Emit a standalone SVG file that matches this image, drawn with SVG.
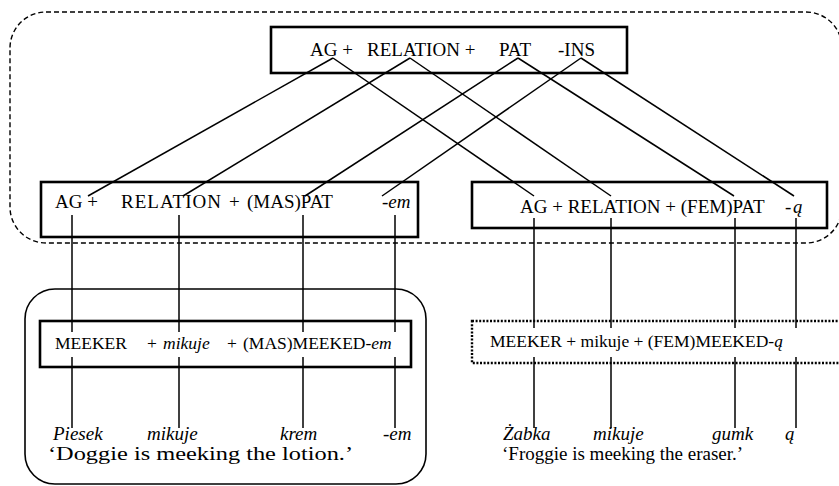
<svg xmlns="http://www.w3.org/2000/svg" width="839" height="486" viewBox="0 0 839 486">
<style>
.t{font-family:"Liberation Serif","Times New Roman",serif;font-size:19px;fill:#000}
.s{font-size:17.5px}
.i{font-style:italic}
.box{fill:none;stroke:#000;stroke-width:2.6}
.ln{stroke:#000;stroke-width:1.5;fill:none}
</style>
<rect width="839" height="486" fill="#fff"/>
<g id="scope-dashed">
<rect x="10" y="12" width="832" height="231" rx="36" ry="36" fill="none" stroke="#000" stroke-width="1.4" stroke-dasharray="5 3"/>
</g>
<g id="scope-left">
<rect x="25" y="289" width="401" height="195" rx="30" ry="30" fill="none" stroke="#000" stroke-width="1.6"/>
</g>
<g id="connectors">
<line class="ln" x1="333" y1="58" x2="88" y2="196"/>
<line class="ln" x1="333" y1="58" x2="534" y2="196"/>
<line class="ln" x1="410" y1="58" x2="183" y2="196"/>
<line class="ln" x1="410" y1="58" x2="611" y2="196"/>
<line class="ln" x1="518" y1="58" x2="305" y2="196"/>
<line class="ln" x1="518" y1="58" x2="734" y2="196"/>
<line class="ln" x1="581" y1="58" x2="382" y2="196"/>
<line class="ln" x1="581" y1="58" x2="794" y2="196"/>
<line class="ln" x1="72" y1="215" x2="72" y2="332"/>
<line class="ln" x1="72" y1="357" x2="72" y2="428"/>
<line class="ln" x1="179" y1="215" x2="179" y2="332"/>
<line class="ln" x1="179" y1="357" x2="179" y2="428"/>
<line class="ln" x1="303" y1="215" x2="303" y2="332"/>
<line class="ln" x1="303" y1="357" x2="303" y2="428"/>
<line class="ln" x1="395" y1="215" x2="395" y2="332"/>
<line class="ln" x1="395" y1="357" x2="395" y2="428"/>
<line class="ln" x1="534" y1="218" x2="534" y2="328"/>
<line class="ln" x1="534" y1="357" x2="534" y2="428"/>
<line class="ln" x1="611" y1="218" x2="611" y2="328"/>
<line class="ln" x1="611" y1="357" x2="611" y2="428"/>
<line class="ln" x1="735" y1="218" x2="735" y2="328"/>
<line class="ln" x1="735" y1="357" x2="735" y2="428"/>
<line class="ln" x1="796" y1="218" x2="796" y2="328"/>
<line class="ln" x1="796" y1="357" x2="796" y2="428"/>
</g>
<g id="node-top">
<rect class="box" x="271" y="27" width="356" height="46"/>
<text class="t" x="310" y="56">AG +</text>
<text class="t" x="367" y="56">RELATION +</text>
<text class="t" x="499" y="56">PAT</text>
<text class="t" x="558" y="56">-INS</text>
</g>
<g id="node-left-mid">
<rect class="box" x="41" y="182" width="377" height="55"/>
<text class="t" x="55" y="208">AG +</text>
<text class="t" x="121" y="208" textLength="100">RELATION</text>
<text class="t" x="229" y="208">+</text>
<text class="t" x="247" y="208">(MAS)PAT</text>
<text class="t i" x="382" y="208">-em</text>
</g>
<g id="node-right-mid">
<rect class="box" x="472" y="182" width="355" height="46"/>
<text class="t" x="520" y="213">AG + RELATION + (FEM)PAT</text>
<text class="t" x="785" y="213">-</text>
<text class="t i" x="793" y="213">ą</text>
</g>
<g id="node-left-low">
<rect class="box" x="40" y="321" width="371" height="46"/>
<text class="t s" x="55" y="349">MEEKER</text>
<text class="t s" x="147" y="349">+</text>
<text class="t s i" x="163" y="349">mikuje</text>
<text class="t s" x="227" y="349">+</text>
<text class="t s" x="243" y="349">(MAS)MEEKED-<tspan class="i">em</tspan></text>
</g>
<g id="node-right-low">
<rect x="472" y="321" width="380" height="42" fill="none" stroke="#000" stroke-width="2.4" stroke-dasharray="2 1.6"/>
<text class="t s" x="490" y="347">MEEKER + mikuje + (FEM)MEEKED-<tspan class="i">ą</tspan></text>
</g>
<g id="gloss-left">
<text class="t i" x="53" y="440">Piesek</text>
<text class="t i" x="147" y="440">mikuje</text>
<text class="t i" x="280" y="440">krem</text>
<text class="t i" x="383" y="440">-em</text>
<text class="t" x="48" y="460" textLength="305" lengthAdjust="spacingAndGlyphs">‘Doggie is meeking the lotion.’</text>
</g>
<g id="gloss-right">
<text class="t i" x="503" y="440">Żabka</text>
<text class="t i" x="593" y="440">mikuje</text>
<text class="t i" x="712" y="440">gumk</text>
<text class="t i" x="785" y="440">ą</text>
<text class="t" x="502" y="460">‘Froggie is meeking the eraser.’</text>
</g>
</svg>
